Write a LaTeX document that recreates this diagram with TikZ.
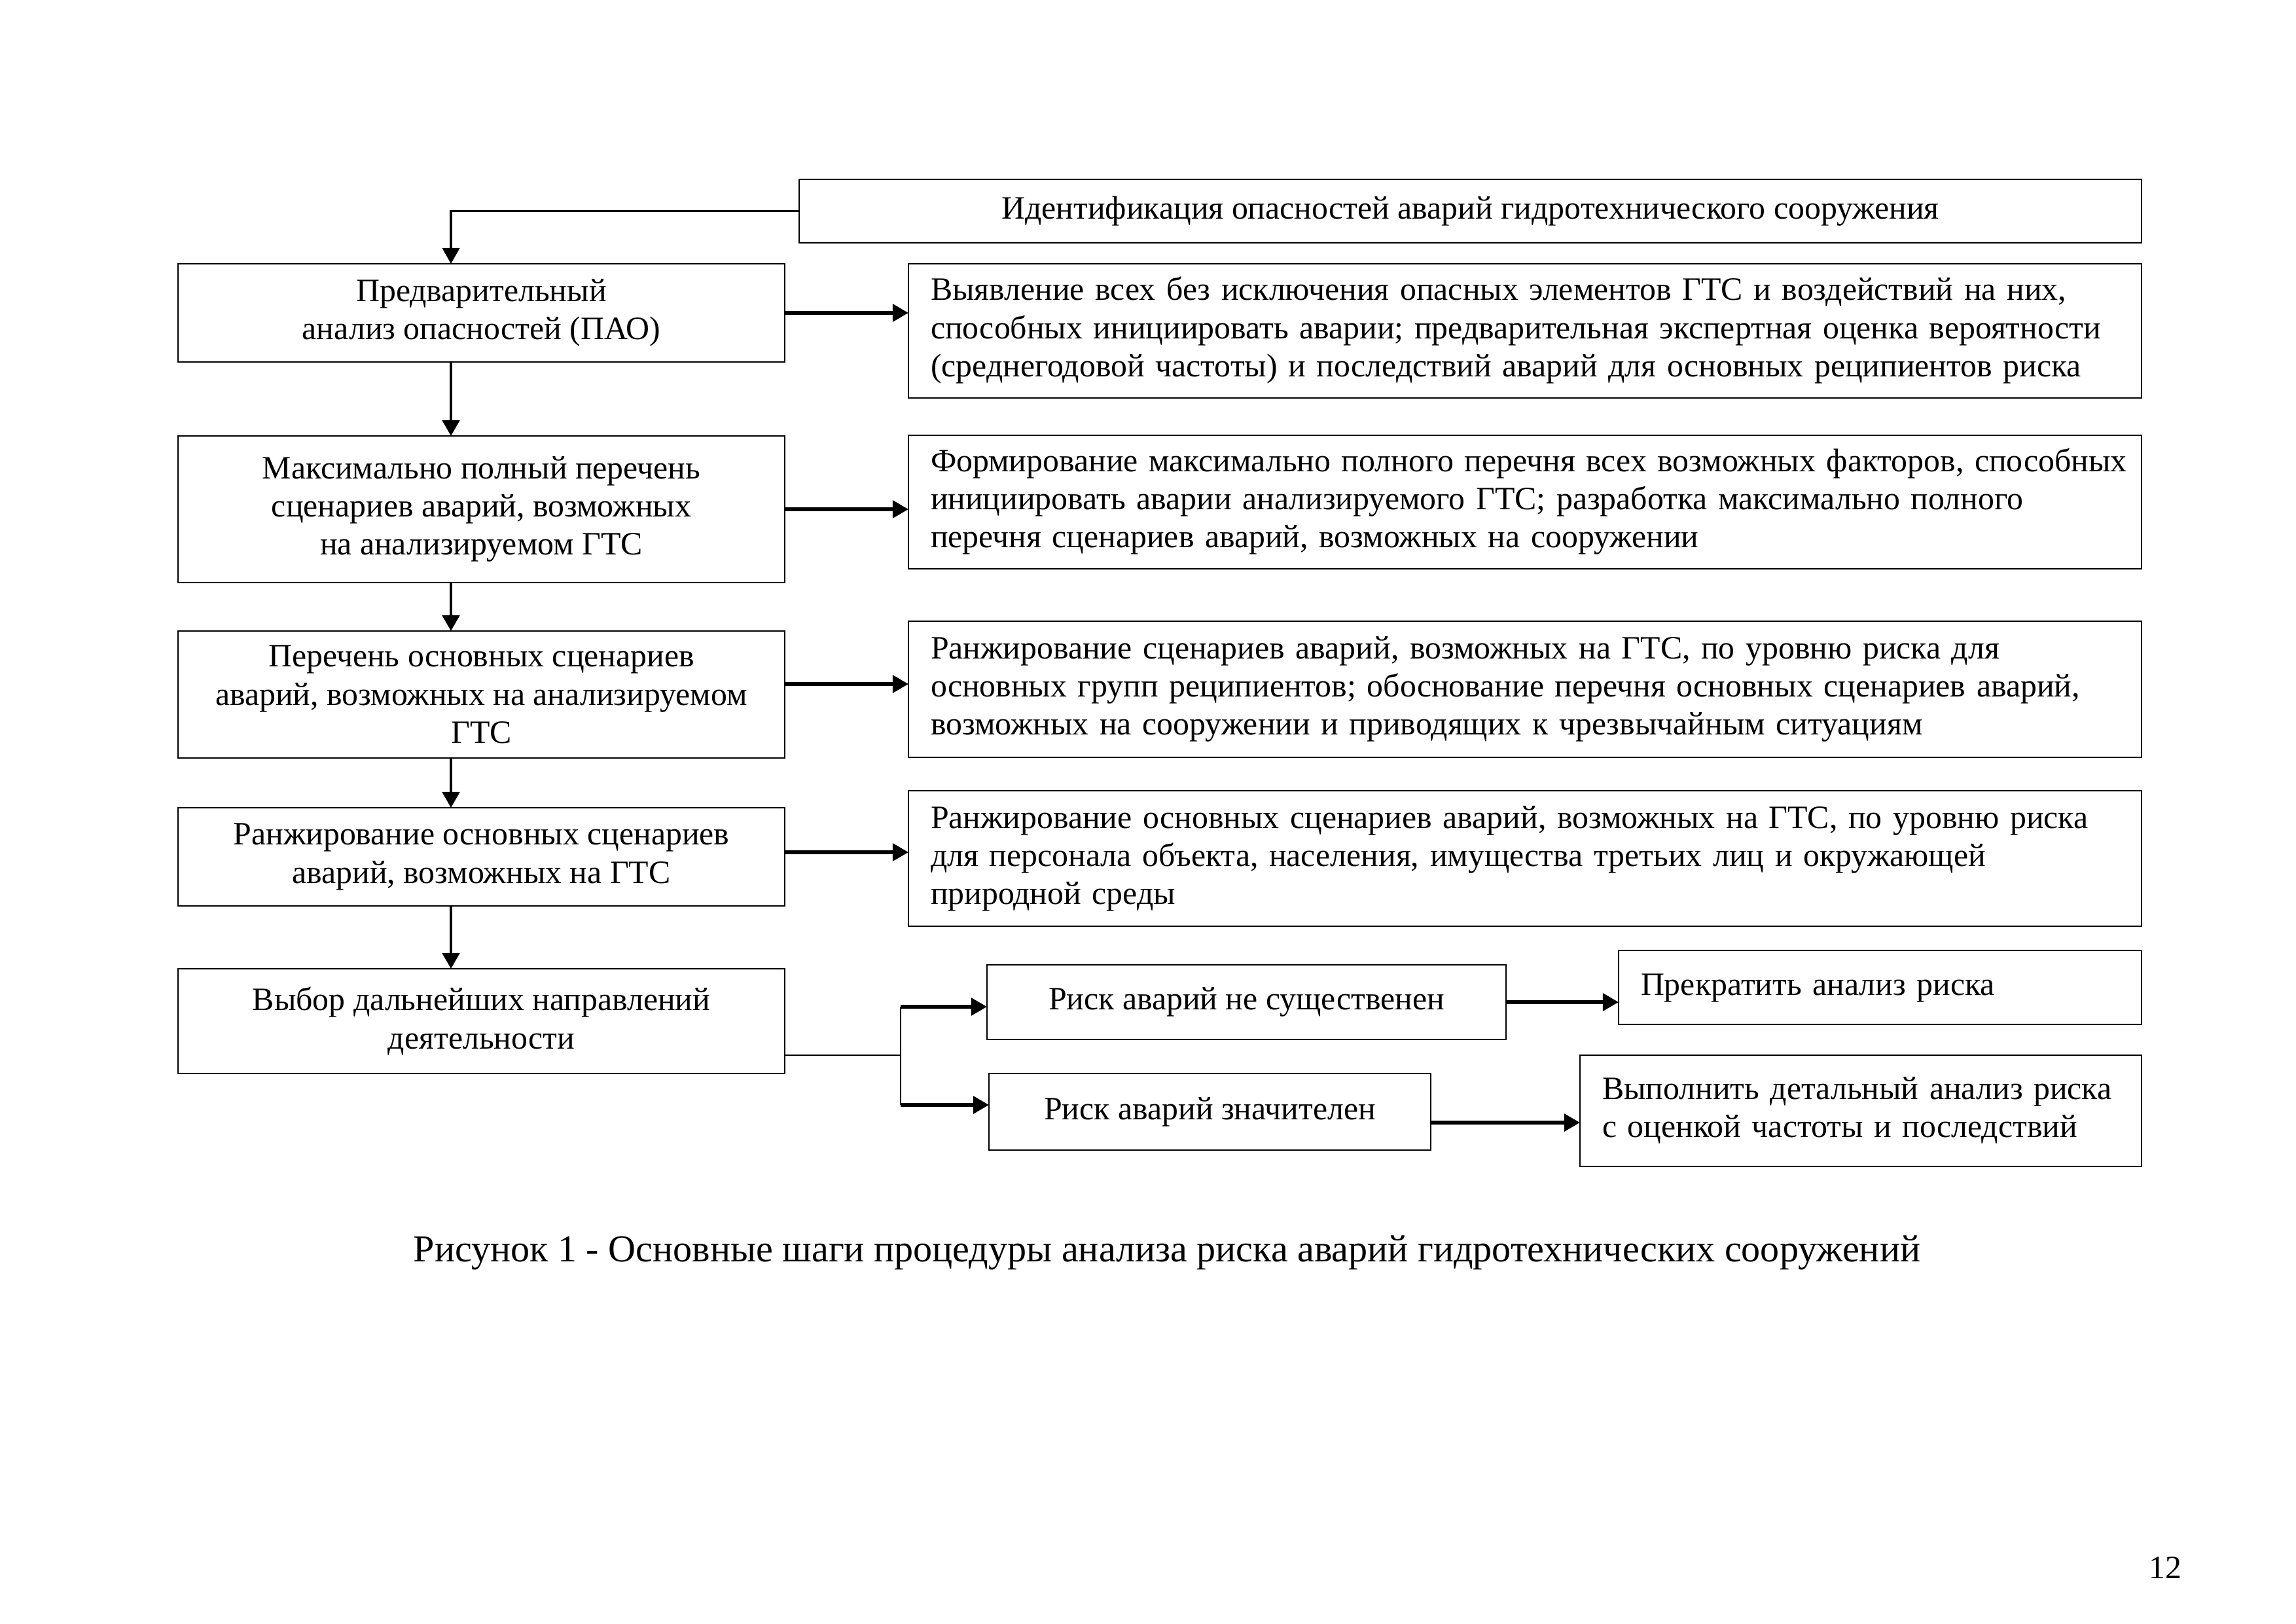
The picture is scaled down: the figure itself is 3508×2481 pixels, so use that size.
\documentclass[tikz,border=0pt]{standalone}
\usepackage{fontspec}
\setmainfont{Liberation Serif}
\usetikzlibrary{arrows.meta}
\newdimen\pxu \pxu=0.084664mm
\newcommand{\fsb}{\fontsize{12pt}{14pt}\selectfont}
\newcommand{\fsc}{\fontsize{14pt}{16pt}\selectfont}
\newcommand{\rtext}[1]{\hspace*{34\pxu}\begin{tabular}{@{}l@{}}#1\end{tabular}}
\tikzset{
  box/.style={draw, line width=0.65pt, inner sep=0pt, outer sep=0pt, font=\fsb, align=center},
  rbox/.style={box, align=left},
  harr/.style={line width=1.35pt, -{Triangle[length=5.8pt,width=6.3pt]}},
  varr/.style={line width=1.15pt, -{Triangle[length=5.8pt,width=6.3pt]}},
  plain/.style={line width=0.65pt},
}
\begin{document}
\begin{tikzpicture}[x=0.084664mm, y=-0.084664mm]
\path[use as bounding box] (0,0) rectangle (3508,2481);

% top box
\node[box, minimum width=2051*\pxu, minimum height=97*\pxu] (T) at (2246.5,322.5)
  {Идентификация опасностей аварий гидротехнического сооружения};

% left column
\node[box, minimum width=927*\pxu, minimum height=150*\pxu] (B1) at (735.5,478)
  {Предварительный\\анализ опасностей (ПАО)};
\node[box, minimum width=927*\pxu, minimum height=224*\pxu] (B2) at (735.5,778)
  {Максимально полный перечень\\сценариев аварий, возможных\\на анализируемом ГТС};
\node[box, minimum width=927*\pxu, minimum height=194*\pxu] (B3) at (735.5,1061)
  {Перечень основных сценариев\\аварий, возможных на анализируемом\\ГТС};
\node[box, minimum width=927*\pxu, minimum height=150*\pxu] (B4) at (735.5,1309)
  {Ранжирование основных сценариев\\аварий, возможных на ГТС};
\node[box, minimum width=927*\pxu, minimum height=160*\pxu] (B5) at (735.5,1560)
  {Выбор дальнейших направлений\\деятельности};

% right column
\node[rbox, text width=1884\pxu, minimum height=205*\pxu] (R1) at (2330,505.5)
  {\rtext{Выявление всех без исключения опасных элементов ГТС и воздействий на них,\\
   способных инициировать аварии; предварительная экспертная оценка вероятности\\
   (среднегодовой частоты) и последствий аварий для основных реципиентов риска}};
\node[rbox, text width=1884\pxu, minimum height=204*\pxu] (R2) at (2330,767)
  {\rtext{Формирование максимально полного перечня всех возможных факторов, способных\\
   инициировать аварии анализируемого ГТС; разработка максимально полного\\
   перечня сценариев аварий, возможных на сооружении}};
\node[rbox, text width=1884\pxu, minimum height=208*\pxu] (R3) at (2330,1053)
  {\rtext{Ранжирование сценариев аварий, возможных на ГТС, по уровню риска для\\
   основных групп реципиентов; обоснование перечня основных сценариев аварий,\\
   возможных на сооружении и приводящих к чрезвычайным ситуациям}};
\node[rbox, text width=1884\pxu, minimum height=207*\pxu] (R4) at (2330,1311.5)
  {\rtext{Ранжирование основных сценариев аварий, возможных на ГТС, по уровню риска\\
   для персонала объекта, населения, имущества третьих лиц и окружающей\\
   природной среды}};

% bottom branch
\node[box, minimum width=793*\pxu, minimum height=114*\pxu] (NS) at (1904.5,1531)
  {Риск аварий не существенен};
\node[box, minimum width=675*\pxu, minimum height=117*\pxu] (ZN) at (1848.5,1698.5)
  {Риск аварий значителен};
\node[rbox, text width=799\pxu, minimum height=113*\pxu] (PR) at (2872.5,1508.5)
  {\rtext{Прекратить анализ риска}};
\node[rbox, text width=858\pxu, minimum height=170*\pxu] (VY) at (2843,1697)
  {\rtext{Выполнить детальный анализ риска\\с оценкой частоты и последствий}};

% helper coordinates
\coordinate (ax) at (689,0);
\coordinate (y3) at (0,1045);
\coordinate (y4) at (0,1302);
\coordinate (br) at (1376,1612);
\coordinate (bt) at (1376,1538);
\coordinate (bb) at (1376,1688);
\coordinate (zv) at (0,1715);

% connectors
\draw[line width=0.9pt, -{Triangle[length=5.8pt,width=6.3pt]}] (T.west) -| (B1.north -| ax);
\draw[varr] (B1.south -| ax) -- (B2.north -| ax);
\draw[varr] (B2.south -| ax) -- (B3.north -| ax);
\draw[varr] (B3.south -| ax) -- (B4.north -| ax);
\draw[varr] (B4.south -| ax) -- (B5.north -| ax);

\draw[harr] (B1.east) -- (B1.east -| R1.west);
\draw[harr] (B2.east) -- (B2.east -| R2.west);
\draw[harr] (B3.east |- y3) -- (R3.west |- y3);
\draw[harr] (B4.east |- y4) -- (R4.west |- y4);

\draw[plain] (B5.east |- br) -- (br);
\draw[plain] (bt) -- (bb);
\draw[harr] (bt) -- (bt -| NS.west);
\draw[harr] (bb) -- (bb -| ZN.west);
\draw[harr] (NS.east) -- (NS.east -| PR.west);
\draw[harr] (ZN.east |- zv) -- (VY.west |- zv);

% caption and page number
\node[anchor=base, inner sep=0pt, font=\fsc] (cap) at (1783,1927)
  {Рисунок 1 - Основные шаги процедуры анализа риска аварий гидротехнических сооружений};
\node[anchor=base, inner sep=0pt, font=\fsb] (pg) at (3308,2411) {12};
\end{tikzpicture}
\end{document}
